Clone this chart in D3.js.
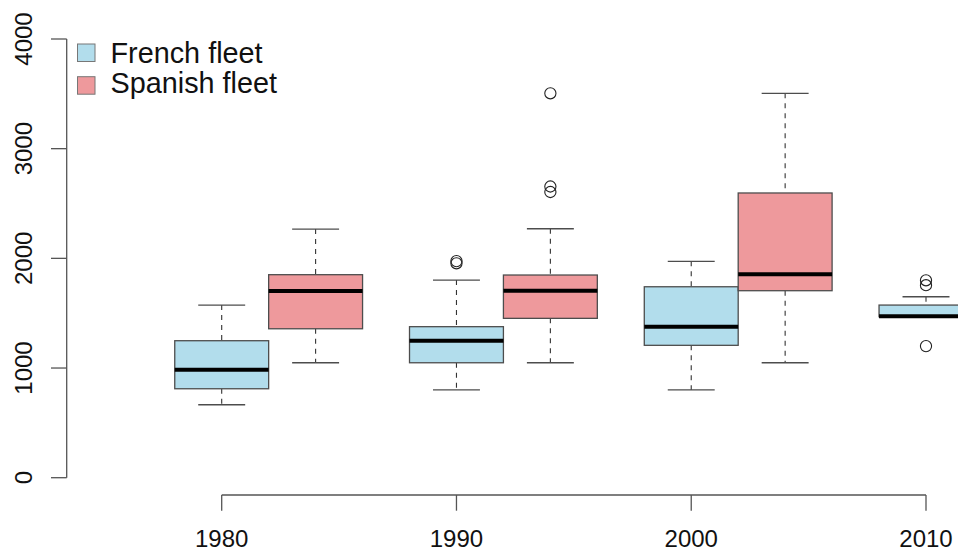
<!DOCTYPE html>
<html>
<head>
<meta charset="utf-8">
<script src="https://cdn.jsdelivr.net/npm/d3@7"></script>
<style>
  html, body { margin: 0; padding: 0; background: #fff; }
  svg { display: block; font-family: "Liberation Sans", Arial, Helvetica, sans-serif; }
</style>
</head>
<body>
<svg id="chart" width="958" height="552"></svg>
<script>
// Decades shown on the x axis
const years = [1980, 1990, 2000, 2010];
const yTicks = [0, 1000, 2000, 3000, 4000];

// French fleet box statistics per decade
const frenchLower  = [665, 800, 800, 1468];
const frenchQ1     = [811, 1048, 1207, 1468];
const frenchMedian = [985, 1249, 1377, 1472];
const frenchQ3     = [1249, 1377, 1741, 1574];
const frenchUpper  = [1574, 1802, 1973, 1650];
const frenchOut    = [[], [1955, 1975], [], [1800, 1755, 1200]];

// Spanish fleet box statistics per decade (no 2010 sample)
const spanishLower  = [1048, 1048, 1048];
const spanishQ1     = [1358, 1453, 1705];
const spanishMedian = [1702, 1705, 1855];
const spanishQ3     = [1851, 1848, 2596];
const spanishUpper  = [2267, 2270, 3505];
const spanishOut    = [[], [3505, 2655, 2605], []];

const seriesNames = ["French fleet", "Spanish fleet"];
const seriesColors = ["#B2DDEC", "#EE999C"];
const offsets = [0, 4];     // Spanish boxes sit 4 years to the right
const boxWidth = 4;         // in years

const svg = d3.select("#chart");
const x = d3.scaleLinear().domain([1980, 2010]).range([221.7, 926]);
const y = d3.scaleLinear().domain([0, 4000]).range([477.7, 39]);

const axisColor = "#555";
const boxStroke = "#4d4d4d";

function buildBoxes(lower, q1, med, q3, upper, out, si) {
  return lower.map((_, i) => ({
    year: years[i], lower: lower[i], q1: q1[i], median: med[i],
    q3: q3[i], upper: upper[i], out: out[i], s: si
  }));
}
const boxes = buildBoxes(frenchLower, frenchQ1, frenchMedian, frenchQ3, frenchUpper, frenchOut, 0)
  .concat(buildBoxes(spanishLower, spanishQ1, spanishMedian, spanishQ3, spanishUpper, spanishOut, 1));

const plot = svg.append("g");

boxes.forEach(b => {
  const c = b.year + offsets[b.s];
  const x0 = x(c - boxWidth / 2), x1 = x(c + boxWidth / 2);
  const xc = x(c);
  const cap0 = x(c - boxWidth / 4), cap1 = x(c + boxWidth / 4);
  const g = plot.append("g");

  // whiskers
  g.append("line").attr("x1", xc).attr("x2", xc).attr("y1", y(b.upper)).attr("y2", y(b.q3))
    .attr("stroke", "#333").attr("stroke-width", 1.1).attr("stroke-dasharray", "5,5");
  g.append("line").attr("x1", xc).attr("x2", xc).attr("y1", y(b.q1)).attr("y2", y(b.lower))
    .attr("stroke", "#333").attr("stroke-width", 1.1).attr("stroke-dasharray", "5,5");
  // caps
  [b.upper, b.lower].forEach(v => {
    g.append("line").attr("x1", cap0).attr("x2", cap1).attr("y1", y(v)).attr("y2", y(v))
      .attr("stroke", boxStroke).attr("stroke-width", 1.3);
  });
  // box
  g.append("rect").attr("x", x0).attr("y", y(b.q3))
    .attr("width", x1 - x0).attr("height", y(b.q1) - y(b.q3))
    .attr("fill", seriesColors[b.s]).attr("stroke", boxStroke).attr("stroke-width", 1.3);
  // median
  g.append("line").attr("x1", x0).attr("x2", x1).attr("y1", y(b.median)).attr("y2", y(b.median))
    .attr("stroke", "#000").attr("stroke-width", 4);
  // outliers
  g.selectAll("circle").data(b.out).join("circle")
    .attr("cx", xc).attr("cy", d => y(d)).attr("r", 5.6)
    .attr("fill", "none").attr("stroke", "#222").attr("stroke-width", 1.1);
});

// y axis
const yAxis = svg.append("g");
yAxis.append("line").attr("x1", 66.7).attr("x2", 66.7).attr("y1", y(0)).attr("y2", y(4000))
  .attr("stroke", axisColor).attr("stroke-width", 1.3);
yTicks.forEach(t => {
  yAxis.append("line").attr("x1", 51).attr("x2", 66.7).attr("y1", y(t)).attr("y2", y(t))
    .attr("stroke", axisColor).attr("stroke-width", 1.3);
  yAxis.append("text").attr("transform", `translate(31.5,${y(t)}) rotate(-90)`)
    .attr("text-anchor", "middle").attr("font-size", 24).attr("fill", "#111").text(t);
});

// x axis
const xAxis = svg.append("g");
xAxis.append("line").attr("x1", x(1980)).attr("x2", x(2010)).attr("y1", 495).attr("y2", 495)
  .attr("stroke", axisColor).attr("stroke-width", 1.3);
years.forEach(t => {
  xAxis.append("line").attr("x1", x(t)).attr("x2", x(t)).attr("y1", 495).attr("y2", 510.7)
    .attr("stroke", axisColor).attr("stroke-width", 1.3);
  xAxis.append("text").attr("x", x(t)).attr("y", 547)
    .attr("text-anchor", "middle").attr("font-size", 24).attr("fill", "#111").text(t);
});

// legend
const legend = svg.append("g");
seriesNames.forEach((name, i) => {
  legend.append("rect").attr("x", 77.5).attr("y", 44 + i * 32.7).attr("width", 17.5).attr("height", 17.5)
    .attr("fill", seriesColors[i]).attr("stroke", "#777").attr("stroke-width", 1);
  legend.append("text").attr("x", 110.5).attr("y", 63.3 + i * 29.2)
    .attr("font-size", 28.8).attr("fill", "#111").text(name);
});
</script>
</body>
</html>
